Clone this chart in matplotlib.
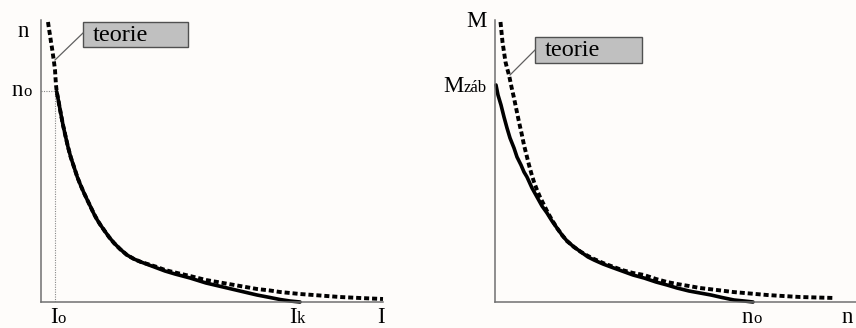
import matplotlib
matplotlib.use("Agg")
import matplotlib.pyplot as plt
from matplotlib.patches import Rectangle
from matplotlib.lines import Line2D

W, H = 856, 328
BG = "#fefcfa"
AXIS = "#707070"
SERIF = ["Liberation Serif", "DejaVu Serif"]

# Left panel: speed n versus armature current I (arbitrary units)
I_real = [15.7, 17.5, 19.7, 22, 24.7, 27, 29.7, 33, 36.3, 39.5, 43, 46.3, 49.7,
          53, 56.3, 59.5, 63, 68, 73, 79, 86, 93, 100, 108, 116, 124, 134, 149,
          165, 182, 199, 216, 229, 239, 249, 259]
n_real = [210.5, 201, 189, 177, 165, 155, 145, 135, 125, 117, 109, 102, 95, 88,
          82, 77, 72, 65, 59, 53, 47, 43, 40, 37, 34, 31, 28, 24, 19, 15, 11, 7,
          4.5, 2.5, 1, 0]
I_theory = [7, 8, 9, 10, 11, 12, 13, 14, 14.5, 15, 15.7, 17.5, 19.7, 22, 24.7,
            27, 29.7, 33, 36.3, 39.5, 43, 46.3, 49.7, 53, 56.3, 59.5, 63, 68, 73,
            79, 86, 93, 100, 108, 116, 124, 134, 149, 165, 182, 199, 216, 229,
            239, 259, 279, 299, 319, 342]
n_theory = [280, 273, 267, 260, 254, 247, 240, 232, 224, 217, 210.5, 201, 189,
            177, 165, 155, 145, 135, 125, 117, 109, 102, 95, 88, 82, 77, 72, 65,
            59, 53, 47, 43, 40, 37.5, 35, 32, 29.5, 26, 22, 19, 16, 13, 11.5, 10,
            8, 6.5, 5, 4, 3]
I0, n0 = 14, 211

# Right panel: torque M versus speed n (arbitrary units)
n_real_r = [1, 3, 6, 9, 12, 15, 19, 22, 26, 29, 32, 37, 42, 47, 52, 57, 62, 67,
            72, 79, 86, 93, 99, 108, 116, 127, 138, 149, 161, 172, 182, 194, 205,
            216, 227, 239, 249, 258]
M_real = [217, 207, 197, 185, 174, 164, 154, 145, 137, 130, 125, 114, 105, 96,
          89, 81, 74, 67, 61, 55, 50, 45, 42, 38, 35, 31, 27, 24, 20, 17, 14, 11,
          9, 7, 4.5, 2, 1, 0]
n_theory_r = [5.5, 6.5, 7.5, 9, 10.5, 12, 14, 16.5, 19, 21.5, 24, 26.5, 29, 31.5,
              34, 36.5, 39, 42, 45, 49, 53, 57, 62, 67, 72, 79, 86, 93, 99, 108,
              116, 127, 138, 149, 161, 172, 182, 194, 205, 222, 238, 255, 272,
              288, 305, 322, 340]
M_theory = [280, 270, 260, 250, 240, 234, 227, 215, 204, 192, 180, 169, 157, 147,
            137, 128, 120, 112, 105, 97, 89, 82, 74, 67, 61, 55, 50, 46, 43, 39,
            36, 32, 29, 27, 23, 20, 18, 16, 14, 12, 10, 8.5, 7, 6, 5, 4.5, 4]

fig = plt.figure(figsize=(W / 100, H / 100), dpi=100, facecolor=BG)
renderer = fig.canvas.get_renderer()


def fx(px):
    return px / W


def fy(py):
    return 1 - py / H


def make_axes(x0, x1, y0, y1, xmax, ymax):
    ax = fig.add_axes([fx(x0), fy(y1), (x1 - x0) / W, (y1 - y0) / H])
    ax.set_facecolor(BG)
    ax.set_xlim(0, xmax)
    ax.set_ylim(0, ymax)
    for s in ("top", "right"):
        ax.spines[s].set_visible(False)
    for s in ("left", "bottom"):
        ax.spines[s].set_color(AXIS)
        ax.spines[s].set_linewidth(1.1)
    ax.set_xticks([])
    ax.set_yticks([])
    return ax


DASH = (0, (1.3, 0.75))
LW_DASH = 2.8
LW_SOLID = 2.6


def draw_curves(ax, xt, yt, xr, yr):
    ax.plot(xt, yt, color="black", lw=LW_DASH, ls=DASH,
            dash_capstyle="butt", dash_joinstyle="round", clip_on=False)
    ax.plot(xr, yr, color="black", lw=LW_SOLID, solid_capstyle="round",
            solid_joinstyle="round", clip_on=False)


axL = make_axes(41, 383, 20, 302, 342, 282)
axL.plot([0, I0], [n0, n0], color="#888888", lw=0.8, ls=(0, (1, 1.2)))
axL.plot([I0, I0], [0, n0], color="#888888", lw=0.8, ls=(0, (1, 1.2)))
draw_curves(axL, I_theory, n_theory, I_real, n_real)

axR = make_axes(495, 856, 20, 302, 361, 282)
draw_curves(axR, n_theory_r, M_theory, n_real_r, M_real)


def label(px, py, big, small=None, size=16.5, small_size=12):
    t = fig.text(fx(px), fy(py), big, family=SERIF, fontsize=size,
                 va="baseline", ha="left")
    if small:
        ext = t.get_window_extent(renderer)
        fig.text(ext.x1 / W, fy(py), small, family=SERIF,
                 fontsize=small_size, va="baseline", ha="left")
    return t


# axis labels
label(18, 37, "n")
label(12, 96, "n", "o")
label(50, 323, "I", "o")
label(289, 323, "I", "k")
label(377, 323, "I")

label(466, 27, "M")
label(443, 92, "M", "záb")
label(742, 323, "n", "o")
label(842, 323, "n")


def callout(bx0, by0, bx1, by1, lx0, ly0, lx1, ly1):
    fig.add_artist(Line2D([fx(lx0), fx(lx1)], [fy(ly0), fy(ly1)],
                          color="#606060", lw=0.9))
    fig.add_artist(Rectangle((fx(bx0), fy(by1)), (bx1 - bx0) / W,
                             (by1 - by0) / H, facecolor="#c0c0c0",
                             edgecolor="#505050", lw=1.0))
    fig.text(fx(bx0 + 10), fy(by0 + 19), "teorie", family=SERIF,
             fontsize=17.5, va="baseline", ha="left")


callout(83, 22, 188, 47, 83, 33, 55, 60)
callout(535, 37, 642, 63, 535, 50, 510, 75)

fig.savefig("out.png", dpi=100, facecolor=BG)
